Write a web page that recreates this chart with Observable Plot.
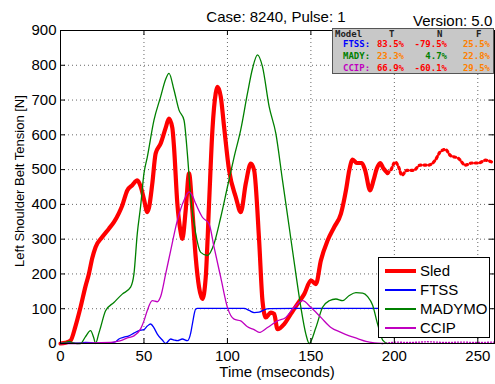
<!DOCTYPE html>
<html><head><meta charset="utf-8">
<script src="https://cdn.jsdelivr.net/npm/d3@7"></script>
<script src="https://cdn.jsdelivr.net/npm/@observablehq/plot@0.6"></script>
<style>
body{margin:0;background:#fff;}
#wrap{position:relative;width:495px;height:384px;overflow:hidden;font-family:"Liberation Sans",Arial,sans-serif;color:#000;}
#wrap svg{position:absolute;left:0;top:0;}
.abs{position:absolute;white-space:nowrap;}
.mono{font-family:"DejaVu Sans Mono","Liberation Mono",monospace;font-weight:bold;font-size:9px;line-height:10px;}
</style></head><body><div id="wrap"></div>
<script>
// ---- data ----
const titleText = "Case: 8240, Pulse: 1";
const versionText = "Version: 5.0";
const xLabel = "Time (mseconds)";
const yLabel = "Left Shoulder Belt Tension [N]";
const xTicks = [0, 50, 100, 150, 200, 250];
const yTicks = [0, 100, 200, 300, 400, 500, 600, 700, 800, 900];
const seriesNames = ["Sled", "FTSS", "MADYMO", "CCIP"];
const seriesColors = ["#ff0000", "#0000ff", "#008000", "#bf00bf"];

const sledT = [0,3,6,9,12,15,17,19,21,25,29,32,35,37,40,43,46,48,50,52,53,55,57,60,63,65,67,68,70,72,73,75,77,79,81,83,85,87,89,91,93,94,96,98,101,105,108,111,114,116,119,121,123,126,128,130,134,138,142,146,150,153,156,160,164,168,171,173,175,177.5,180.5,182.5,185.5,187.5,189.5,191.5,193.5,196];
const sledV = [0,2,8,50,104,165,200,245,277,306,330,349,375,397,440,455,469,452,415,378,390,460,546,575,620,647,620,565,402,320,301,383,489,383,248,162,128,190,402,613,720,738,710,623,498,421,378,460,517,498,296,123,75,89,85,41,56,85,114,142,181,171,239,296,335,373,440,498,529,519,519,498,440,469,503,519,503,490];
const sledDotT = [196,198,200.5,202.5,204.5,207.5,211.5,215.5,220.5,224.5,227.5,230.5,233.5,238.5,242.5,246.5,250.5,254.5,259.5];
const sledDotV = [490,500,522,508,484,498,498,513,513,527,551,558,541,532,513,519,519,527,519];

const ftssT = [0,5,10,15,20,25,30,33,35,38,41,44,47,50,52,54,56,58,61,63,66,68,70,73,76,78,79,81,82,90,100,110,113,116,119,122,125,140,160,180,195,200];
const ftssV = [0,2,1,3,2,1,2,5,13,18,22,30,37,40,50,56,45,27,10,0,13,10,8,13,8,30,56,99,101,101,101,101,95,89,90,97,100,101,101,101,101,101];

const madyT = [0,3,5,8,10,12,15,18,20,21,23,24,27,32,37,42,44,46,48,50,52,56,60,63,65,68,71,74,76,78,81,84,88,92,96,100,104,108,112,115,118,121,125,129,133,137,141,144,147,149,153,157,161,165,169,173,177,181,184,187,190,193,196];
const madyV = [0,3,6,1,0,0,20,37,15,0,30,46,94,118,142,162,200,316,395,489,536,642,710,760,777,729,671,642,546,421,316,262,253,287,363,450,536,615,719,790,830,796,681,604,469,335,200,104,27,0,46,104,123,128,123,138,146,145,135,110,55,10,0];

const ccipT = [0,10,20,30,34,37,40,44,48,50,52,55,58,60,63,66,70,74,77,79,81,85,89,92,96,100,104,108,112,116,119,124,130,135,140,145,150,156,162,168,173,178,183,188,193];
const ccipV = [0,0,2,3,6,10,16,22,42,65,95,123,120,135,200,267,354,412,436,425,402,363,344,277,190,104,70,65,48,40,32,46,65,75,104,123,104,75,46,32,22,14,6,2,0];
const ccipDotT = [193,200,210,220,230,240,250,260];
const ccipDotV = [0,4,3,5,3,4,3,4];

const tableHeader = ["Model", "T", "N", "F"];
const tableRows = ["FTSS:", "MADY:", "CCIP:"];
const tableT = ["83.5%", "23.3%", "66.9%"];
const tableN = ["-79.5%", "4.7%", "-60.1%"];
const tableF = ["25.5%", "22.8%", "29.5%"];
const tableTColors = ["#ff0000", "#ff8000", "#ff0000"];
const tableNColors = ["#ff0000", "#008000", "#ff0000"];
const tableFColors = ["#ff8000", "#ff8000", "#ff8000"];
const tableRowColors = ["#0000ff", "#008000", "#bf00bf"];

// ---- build ----
const zip = (T, V) => T.map((t, i) => ({t, v: V[i]}));
const sled = zip(sledT, sledV), sledDot = zip(sledDotT, sledDotV);
const ftss = zip(ftssT, ftssV), mady = zip(madyT, madyV);
const ccip = zip(ccipT, ccipV), ccipDot = zip(ccipDotT, ccipDotV);

const W = 495, H = 384, mL = 60, mR = 1, mT = 30, mB = 41;
const fw = W - mL - mR, fh = H - mT - mB;
const gridStyle = {stroke: "#000", strokeOpacity: 0.6, strokeDasharray: "1,3", strokeWidth: 1};

const chart = Plot.plot({
  width: W, height: H,
  marginLeft: mL, marginRight: mR, marginTop: mT, marginBottom: mB,
  x: {domain: [0, 260]},
  y: {domain: [0, 900]},
  style: {fontFamily: "'Liberation Sans', Arial, sans-serif", fontSize: "15px", color: "#000", background: "#fff", overflow: "visible"},
  marks: [
    Plot.gridX(xTicks.filter(d => d > 0), gridStyle),
    Plot.gridY(yTicks.filter(d => d > 0 && d < 900), gridStyle),
    Plot.line(sled, {x: "t", y: "v", stroke: seriesColors[0], strokeWidth: 4.2, curve: "monotone-x"}),
    Plot.line(sledDot, {x: "t", y: "v", stroke: seriesColors[0], strokeWidth: 3.2, strokeDasharray: "2,3", curve: "monotone-x"}),
    Plot.line(ftss, {x: "t", y: "v", stroke: seriesColors[1], strokeWidth: 1.3, curve: "monotone-x"}),
    Plot.line(mady, {x: "t", y: "v", stroke: seriesColors[2], strokeWidth: 1.3, curve: "monotone-x"}),
    Plot.line(ccip, {x: "t", y: "v", stroke: seriesColors[3], strokeWidth: 1.3, curve: "monotone-x"}),
    Plot.line(ccipDot, {x: "t", y: "v", stroke: seriesColors[3], strokeWidth: 1.3, strokeDasharray: "1,2"}),
    Plot.ruleX(xTicks, {insetTop: fh - 5, stroke: "#000"}),
    Plot.ruleX(xTicks, {insetBottom: fh - 5, stroke: "#000"}),
    Plot.ruleY(yTicks, {insetRight: fw - 5, stroke: "#000"}),
    Plot.ruleY(yTicks, {insetLeft: fw - 5, stroke: "#000"}),
    Plot.frame({stroke: "#000", strokeWidth: 1}),
    Plot.axisX({ticks: xTicks, tickSize: 0, tickPadding: 7, label: null}),
    Plot.axisY({ticks: yTicks, tickSize: 0, tickPadding: 4, label: null})
  ]
});

const wrap = document.getElementById("wrap");
wrap.appendChild(chart);

function addDiv(html, css, cls = "abs") {
  const d = document.createElement("div");
  d.className = cls;
  d.innerHTML = html;
  d.style.cssText = css;
  wrap.appendChild(d);
  return d;
}

// table box
const tb = addDiv("", "left:332px;top:28px;width:160px;height:44px;background:#c8c8c8;border:1px solid #555;overflow:hidden;");
function cell(parent, text, x, y, color, align) {
  const d = document.createElement("div");
  d.className = "abs mono";
  d.textContent = text;
  d.style.color = color;
  d.style.top = (y - 5) + "px";
  if (align === "right") d.style.right = (160 - x) + "px"; else d.style.left = x + "px";
  parent.appendChild(d);
}
cell(tb, tableHeader[0], 2, 5, "#222", "left");
cell(tb, tableHeader[1], 56, 5, "#222", "left");
cell(tb, tableHeader[2], 104, 5, "#222", "left");
cell(tb, tableHeader[3], 143, 5, "#222", "left");
tableRows.forEach((r, i) => {
  const y = 15 + i * 12;
  cell(tb, r, 10, y, tableRowColors[i], "left");
  cell(tb, tableT[i], 71, y, tableTColors[i], "right");
  cell(tb, tableN[i], 114, y, tableNColors[i], "right");
  cell(tb, tableF[i], 157, y, tableFColors[i], "right");
});

// titles
addDiv(titleText, "left:276px;top:8px;transform:translateX(-50%);font-size:15px;line-height:17px;");
addDiv(versionText, "left:413px;top:13px;font-size:15px;line-height:15px;");
addDiv(xLabel, "left:277px;top:364px;transform:translateX(-50%);font-size:15px;line-height:15px;");
addDiv(yLabel, "left:20px;top:181px;transform:translate(-50%,-50%) rotate(-90deg);font-size:13px;line-height:14px;");

// legend
const lg = addDiv("", "left:378px;top:257px;width:110px;height:79px;background:#fff;border:1px solid #000;");
seriesNames.forEach((n, i) => {
  const y = 13 + i * 19;
  const ln = document.createElement("div");
  ln.className = "abs";
  const lw = i === 0 ? 4 : 1.5;
  ln.style.cssText = `left:6px;top:${y - lw / 2}px;width:31px;height:${lw}px;background:${seriesColors[i]};`;
  lg.appendChild(ln);
  const tx = document.createElement("div");
  tx.className = "abs";
  tx.textContent = n;
  tx.style.cssText = `left:41px;top:${y - 9}px;font-size:15px;line-height:17px;`;
  lg.appendChild(tx);
});
</script>
</body></html>
